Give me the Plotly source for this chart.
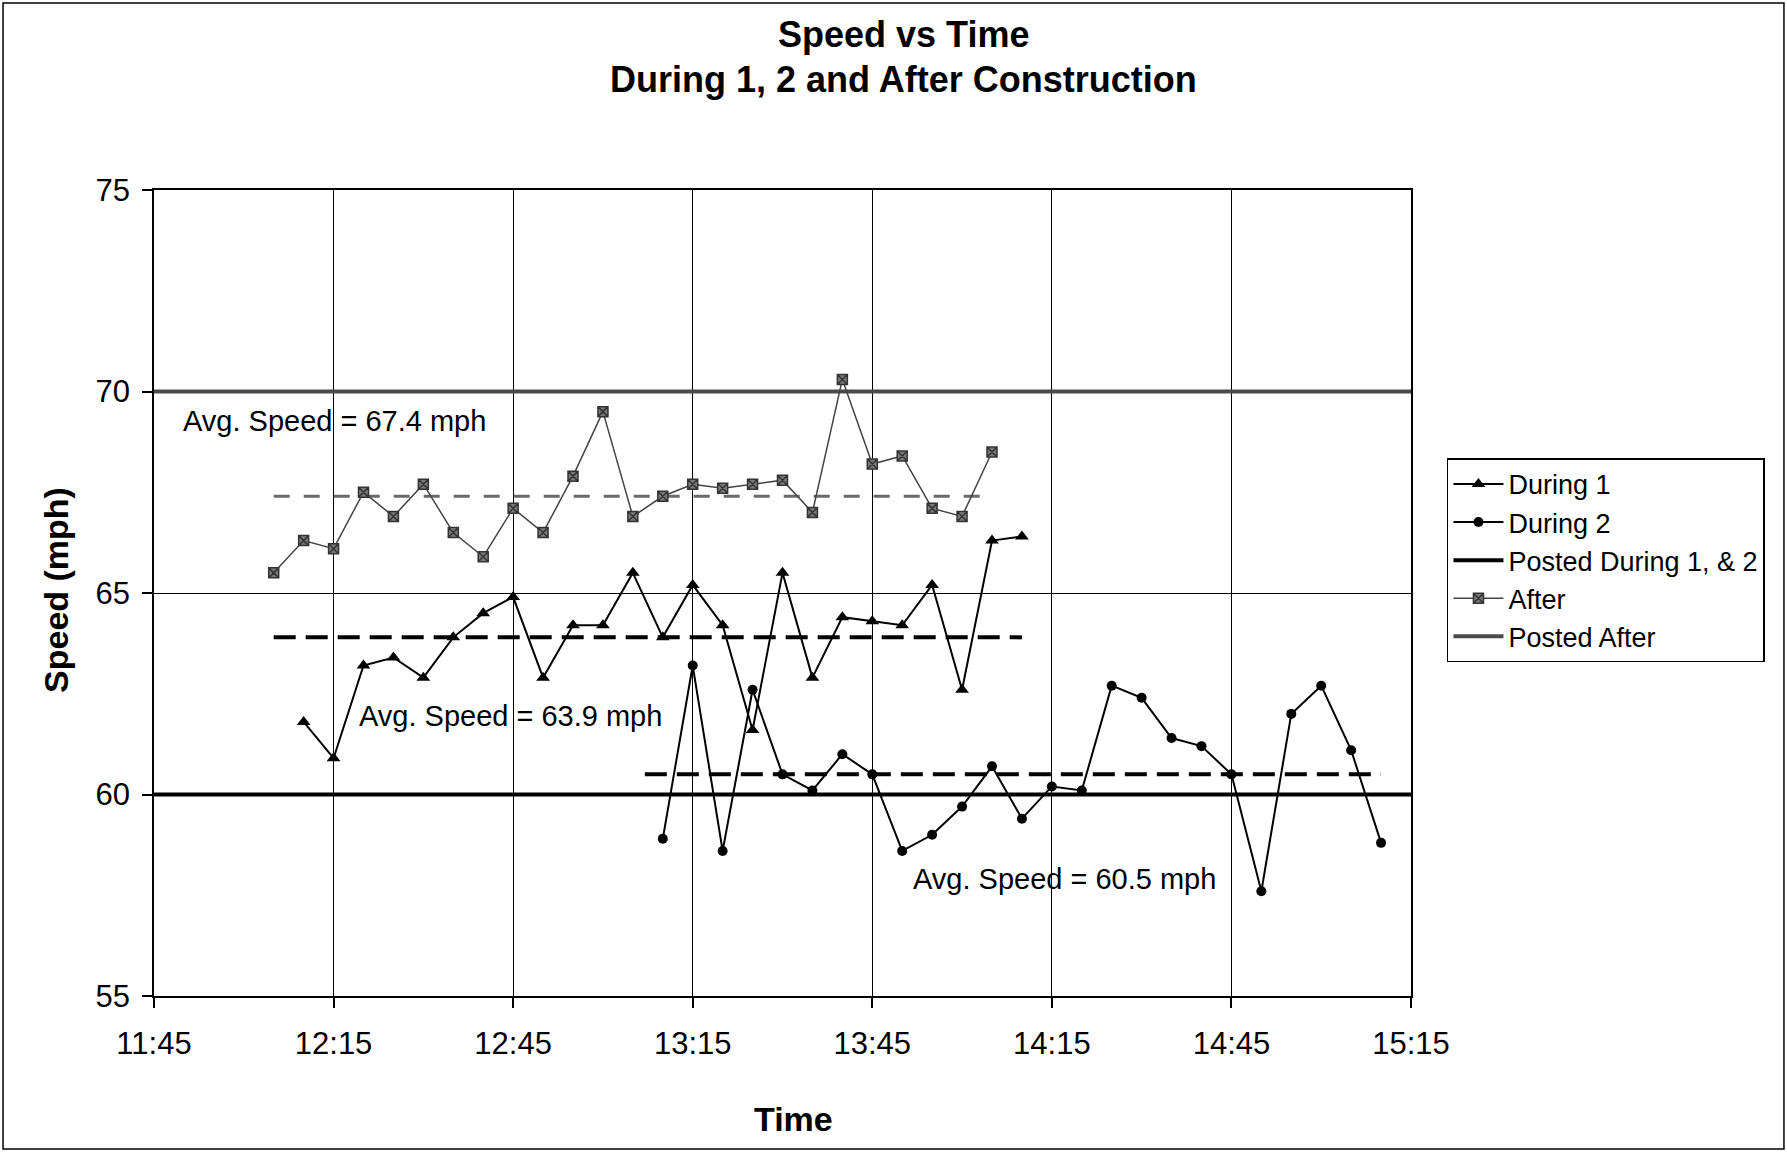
import plotly.graph_objects as go

DAY = "2000-01-01 "

# Observation times (5-minute intervals)
times_after = ["12:05", "12:10", "12:15", "12:20", "12:25", "12:30", "12:35", "12:40",
               "12:45", "12:50", "12:55", "13:00", "13:05", "13:10", "13:15", "13:20",
               "13:25", "13:30", "13:35", "13:40", "13:45", "13:50", "13:55", "14:00",
               "14:05"]
times_during1 = ["12:10", "12:15", "12:20", "12:25", "12:30", "12:35", "12:40", "12:45",
                 "12:50", "12:55", "13:00", "13:05", "13:10", "13:15", "13:20", "13:25",
                 "13:30", "13:35", "13:40", "13:45", "13:50", "13:55", "14:00", "14:05",
                 "14:10"]
times_during2 = ["13:10", "13:15", "13:20", "13:25", "13:30", "13:35", "13:40", "13:45",
                 "13:50", "13:55", "14:00", "14:05", "14:10", "14:15", "14:20", "14:25",
                 "14:30", "14:35", "14:40", "14:45", "14:50", "14:55", "15:00", "15:05",
                 "15:10"]

# Speeds (mph)
speed_after = [65.5, 66.3, 66.1, 67.5, 66.9, 67.7, 66.5, 65.9, 67.1, 66.5, 67.9, 69.5,
               66.9, 67.4, 67.7, 67.6, 67.7, 67.8, 67.0, 70.3, 68.2, 68.4, 67.1, 66.9,
               68.5]
speed_during1 = [61.8, 60.9, 63.2, 63.4, 62.9, 63.9, 64.5, 64.9, 62.9, 64.2, 64.2, 65.5,
                 63.9, 65.2, 64.2, 61.6, 65.5, 62.9, 64.4, 64.3, 64.2, 65.2, 62.6, 66.3,
                 66.4]
speed_during2 = [58.9, 63.2, 58.6, 62.6, 60.5, 60.1, 61.0, 60.5, 58.6, 59.0, 59.7, 60.7,
                 59.4, 60.2, 60.1, 62.7, 62.4, 61.4, 61.2, 60.5, 57.6, 62.0, 62.7, 61.1,
                 58.8]

# Average speeds and the time spans their reference lines cover
avg_after, avg_after_span = 67.4, ["12:05", "14:05"]
avg_during1, avg_during1_span = 63.9, ["12:05", "14:10"]
avg_during2, avg_during2_span = 60.5, ["13:07", "15:10"]

# Posted speed limits
posted_during, posted_after = 60, 70
axis_span = ["11:45", "15:15"]

y_ticks = [55, 60, 65, 70, 75]


def t(values):
    return [DAY + v for v in values]


FONT = "Liberation Sans, Arial, sans-serif"

fig = go.Figure()

fig.add_trace(go.Scatter(
    x=t(axis_span), y=[posted_during] * 2, mode="lines", name="Posted During 1, & 2",
    line=dict(color="black", width=4), legendrank=3))
fig.add_trace(go.Scatter(
    x=t(axis_span), y=[posted_after] * 2, mode="lines", name="Posted After",
    line=dict(color="#4a4a4a", width=4), legendrank=5))

fig.add_trace(go.Scatter(
    x=t(avg_after_span), y=[avg_after] * 2, mode="lines", showlegend=False,
    line=dict(color="#6a6a6a", width=3, dash="16px,14px"), hoverinfo="skip"))
fig.add_trace(go.Scatter(
    x=t(avg_during1_span), y=[avg_during1] * 2, mode="lines", showlegend=False,
    line=dict(color="black", width=4, dash="22px,10px"), hoverinfo="skip"))
fig.add_trace(go.Scatter(
    x=t(avg_during2_span), y=[avg_during2] * 2, mode="lines", showlegend=False,
    line=dict(color="black", width=4, dash="22px,10px"), hoverinfo="skip"))

fig.add_trace(go.Scatter(
    x=t(times_after), y=speed_after, mode="lines+markers", name="After",
    line=dict(color="#444444", width=1.5),
    marker=dict(symbol="square-x", size=10, color="#7a7a7a",
                line=dict(color="#333333", width=1.5)),
    legendrank=4))
fig.add_trace(go.Scatter(
    x=t(times_during1), y=speed_during1, mode="lines+markers", name="During 1",
    line=dict(color="black", width=2),
    marker=dict(symbol="triangle-up", size=12, color="black"), legendrank=1))
fig.add_trace(go.Scatter(
    x=t(times_during2), y=speed_during2, mode="lines+markers", name="During 2",
    line=dict(color="black", width=2),
    marker=dict(symbol="circle", size=10, color="black"), legendrank=2))


def label(text, x, y, size, **kw):
    return dict(text=text, x=x, y=y, showarrow=False, xanchor=kw.pop("xanchor", "center"),
                yanchor="middle", font=dict(size=size, family=FONT, color="black"), **kw)


annotations = [
    label("<b>Speed vs Time</b>", 0.596, 1.1935, 36, xref="paper", yref="paper"),
    label("<b>During 1, 2 and After Construction</b>", 0.596, 1.1365, 36,
          xref="paper", yref="paper"),
    label("<b>Time</b>", 0.5084, -0.1526, 34, xref="paper", yref="paper"),
    label("<b>Speed (mph)</b>", -0.078, 0.5037, 34, xref="paper", yref="paper",
          textangle=-90),
    label(f"Avg. Speed = {avg_after} mph", DAY + "11:49:30", 69.28, 29, xanchor="left"),
    label(f"Avg. Speed = {avg_during1} mph", DAY + "12:18:54", 61.95, 29, xanchor="left"),
    label(f"Avg. Speed = {avg_during2} mph", DAY + "13:51:24", 57.9, 29, xanchor="left"),
]

fig.update_layout(
    width=1787, height=1152,
    margin=dict(l=154, r=376, t=190, b=156),
    paper_bgcolor="white", plot_bgcolor="white",
    font=dict(family=FONT, color="black", size=30),
    annotations=annotations,
    legend=dict(x=1.0286, y=0.667, xanchor="left", yanchor="top",
                bordercolor="black", borderwidth=1.5, bgcolor="white",
                font=dict(size=27, family=FONT, color="black"),
                itemwidth=50, tracegroupgap=0),
    shapes=[dict(type="rect", xref="paper", yref="paper",
                 x0=-0.1201, x1=1.2967, y0=-0.1898, y1=1.232,
                 line=dict(color="black", width=1.5))],
)

fig.update_xaxes(
    type="date", range=t(axis_span), tick0=DAY + "11:45", dtick=30 * 60 * 1000,
    tickformat="%H:%M", showgrid=True, gridcolor="black", gridwidth=1,
    showline=True, linecolor="black", linewidth=1.5, mirror=True,
    ticks="outside", ticklen=10, tickcolor="black", tickwidth=1.5,
    tickfont=dict(size=31, family=FONT, color="black"), zeroline=False,
    ticklabelstandoff=9)
fig.update_yaxes(
    range=[55, 75], tickvals=y_ticks, showgrid=True, gridcolor="black", gridwidth=1,
    showline=True, linecolor="black", linewidth=1.5, mirror=True,
    ticks="outside", ticklen=10, tickcolor="black", tickwidth=1.5,
    tickfont=dict(size=31, family=FONT, color="black"), zeroline=False,
    ticklabelstandoff=6)

fig.write_html("out.html")
